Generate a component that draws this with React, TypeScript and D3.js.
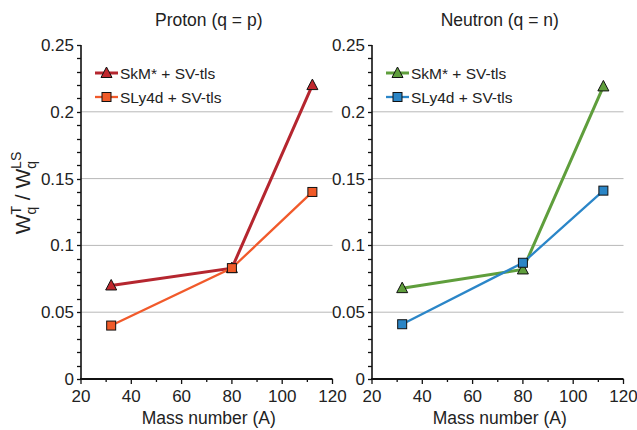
import { useEffect, useRef } from "react";
import * as d3 from "d3";

const massNumbers = [32, 80, 112];

const protonSkM = [0.07, 0.083, 0.22];
const protonSLy4d = [0.04, 0.083, 0.14];
const neutronSkM = [0.068, 0.082, 0.219];
const neutronSLy4d = [0.041, 0.087, 0.141];

const panelTitles = ["Proton (q = p)", "Neutron (q = n)"];
const legendLabels = ["SkM* + SV-tls", "SLy4d + SV-tls"];
const yTicks = [0, 0.05, 0.1, 0.15, 0.2, 0.25];
const xTicks = [20, 40, 60, 80, 100, 120];

const W = 637;
const H = 430;

interface Series {
  values: number[];
  line: string;
  fill: string;
  width: number;
  marker: "tri" | "sq";
}

export default function App() {
  const ref = useRef<SVGSVGElement | null>(null);

  useEffect(() => {
    const svg = d3.select(ref.current!);
    svg.selectAll("*").remove();

    const font = "'Liberation Sans', Arial, sans-serif";
    const y = d3.scaleLinear().domain([0, 0.25]).range([379, 45]);

    const panels: { x0: number; series: Series[] }[] = [
      {
        x0: 81,
        series: [
          { values: protonSkM, line: "#b5262f", fill: "#c0272d", width: 3, marker: "tri" },
          { values: protonSLy4d, line: "#f15a2b", fill: "#f05a28", width: 2.3, marker: "sq" },
        ],
      },
      {
        x0: 372,
        series: [
          { values: neutronSkM, line: "#5f9e3c", fill: "#5f9e3c", width: 3, marker: "tri" },
          { values: neutronSLy4d, line: "#2b86c8", fill: "#2a85c6", width: 2.3, marker: "sq" },
        ],
      },
    ];

    const drawMarker = (g: d3.Selection<SVGGElement, unknown, null, undefined>, kind: string, cx: number, cy: number, fill: string) => {
      if (kind === "tri") {
        g.append("path")
          .attr("d", `M${cx},${cy - 6}L${cx + 5.5},${cy + 4.5}L${cx - 5.5},${cy + 4.5}Z`)
          .attr("fill", fill)
          .attr("stroke", "#111")
          .attr("stroke-width", 1);
      } else {
        g.append("rect")
          .attr("x", cx - 4.5)
          .attr("y", cy - 4.5)
          .attr("width", 9)
          .attr("height", 9)
          .attr("fill", fill)
          .attr("stroke", "#111")
          .attr("stroke-width", 1);
      }
    };

    panels.forEach((p, pi) => {
      const x = d3.scaleLinear().domain([20, 120]).range([p.x0, p.x0 + 251.5]);
      const g = svg.append("g");

      // grid
      g.selectAll("line.grid")
        .data(yTicks.filter((t) => t > 0 && t < 0.25))
        .join("line")
        .attr("x1", x(20))
        .attr("x2", x(120))
        .attr("y1", (d) => y(d))
        .attr("y2", (d) => y(d))
        .attr("stroke", "#b8b8b8")
        .attr("stroke-width", 1);

      // y minor ticks
      const minorY = d3.range(0, 0.2501, 0.01);
      g.selectAll("line.ymin")
        .data(minorY)
        .join("line")
        .attr("x1", x(20) - 4)
        .attr("x2", x(20))
        .attr("y1", (d) => Math.round(y(d)) + 0.5)
        .attr("y2", (d) => Math.round(y(d)) + 0.5)
        .attr("stroke", "#111")
        .attr("stroke-width", 1.3);

      g.append("line")
        .attr("x1", x(20))
        .attr("x2", x(20))
        .attr("y1", y(0.25))
        .attr("y2", y(0))
        .attr("stroke", "#111")
        .attr("stroke-width", 1.6);

      // x axis
      g.append("line")
        .attr("x1", x(20) - 1)
        .attr("x2", x(120))
        .attr("y1", y(0))
        .attr("y2", y(0))
        .attr("stroke", "#111")
        .attr("stroke-width", 2);

      g.selectAll("line.xmaj")
        .data(d3.range(20, 121, 10))
        .join("line")
        .attr("x1", (d) => x(d))
        .attr("x2", (d) => x(d))
        .attr("y1", y(0))
        .attr("y2", (d) => y(0) + (d % 20 === 0 ? 5 : 3))
        .attr("stroke", "#111")
        .attr("stroke-width", 1.3);

      g.selectAll("text.xt")
        .data(xTicks)
        .join("text")
        .attr("x", (d) => x(d))
        .attr("y", 402)
        .attr("text-anchor", "middle")
        .attr("font-family", font)
        .attr("font-size", 17)
        .attr("fill", "#222")
        .text((d) => d);

      g.selectAll("text.yt")
        .data(yTicks)
        .join("text")
        .attr("x", x(20) - 7)
        .attr("y", (d) => y(d) + 6)
        .attr("text-anchor", "end")
        .attr("font-family", font)
        .attr("font-size", 17)
        .attr("fill", "#222")
        .text((d) => String(d));

      g.append("text")
        .attr("x", (x(20) + x(120)) / 2 + 2)
        .attr("y", 424)
        .attr("text-anchor", "middle")
        .attr("font-family", font)
        .attr("font-size", 17.5)
        .attr("fill", "#222")
        .text("Mass number (A)");

      g.append("text")
        .attr("x", (x(20) + x(120)) / 2 + 2)
        .attr("y", 26)
        .attr("text-anchor", "middle")
        .attr("font-family", font)
        .attr("font-size", 17.5)
        .attr("fill", "#222")
        .text(panelTitles[pi]);

      // series lines
      const line = d3
        .line<number>()
        .x((_, i) => x(massNumbers[i]))
        .y((d) => y(d));

      p.series.forEach((s) => {
        g.append("path")
          .attr("d", line(s.values)!)
          .attr("fill", "none")
          .attr("stroke", s.line)
          .attr("stroke-width", s.width);
      });
      p.series.forEach((s) => {
        s.values.forEach((v, i) => drawMarker(g, s.marker, x(massNumbers[i]), y(v), s.fill));
      });

      // legend
      p.series.forEach((s, i) => {
        const ly = 73 + i * 24;
        const lx = x(20) + 14;
        g.append("line")
          .attr("x1", lx)
          .attr("x2", lx + 23)
          .attr("y1", ly)
          .attr("y2", ly)
          .attr("stroke", s.line)
          .attr("stroke-width", s.width);
        drawMarker(g, s.marker, lx + 11.5, ly, s.fill);
        g.append("text")
          .attr("x", lx + 25)
          .attr("y", ly + 5.5)
          .attr("font-family", font)
          .attr("font-size", 15.5)
          .attr("fill", "#222")
          .text(legendLabels[i]);
      });
    });

    // y axis title
    const yt = svg
      .append("text")
      .attr("transform", "translate(30,193) rotate(-90)")
      .attr("text-anchor", "middle")
      .attr("font-family", font)
      .attr("font-size", 21)
      .attr("fill", "#222");
    yt.append("tspan").text("W");
    yt.append("tspan").attr("font-size", 14).attr("dy", 6).text("q");
    yt.append("tspan").attr("font-size", 14).attr("dx", -8).attr("dy", -15).text("T");
    yt.append("tspan").attr("dy", 9).text(" / W");
    yt.append("tspan").attr("font-size", 14).attr("dy", 6).text("q");
    yt.append("tspan").attr("font-size", 14).attr("dx", -8).attr("dy", -15).text("LS");
  }, []);

  return (
    <svg
      ref={ref}
      width={W}
      height={H}
      style={{ position: "absolute", left: 0, top: 0, background: "#fff" }}
    />
  );
}
